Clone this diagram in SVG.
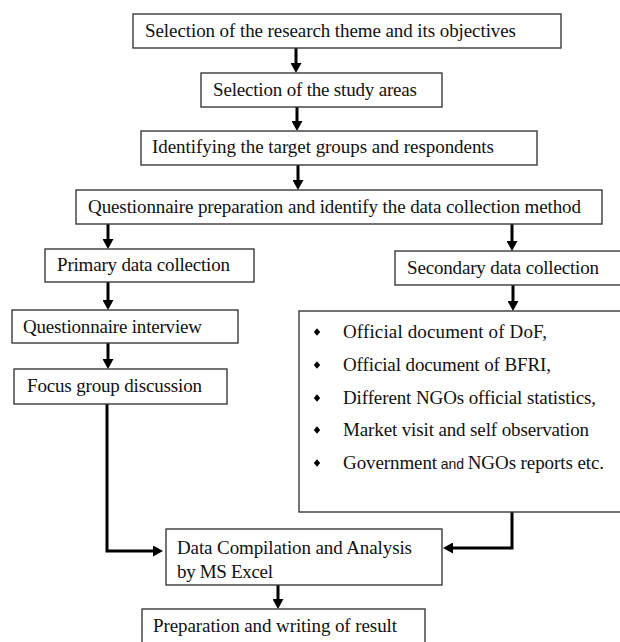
<svg xmlns="http://www.w3.org/2000/svg" width="620" height="642" viewBox="0 0 620 642">
<style>
.box{fill:#fff;stroke:#3a3a3a;stroke-width:1.4}
.t{font-family:"Liberation Serif","Times New Roman",serif;font-size:19px;fill:#111}
.c{fill:none;stroke:#000;stroke-width:3}
.s{font-family:"Liberation Sans",Arial,sans-serif;font-size:14px}
</style>
<defs>
<marker id="ah" markerUnits="userSpaceOnUse" markerWidth="11" markerHeight="11" refX="5" refY="5.5" orient="auto">
<path d="M0,0 L10,5.5 L0,11 z" fill="#000"/>
</marker>
<path id="bul" d="M0,-3.8 L3.2,0 L0,3.8 L-3.2,0 z" fill="#000"/>
</defs>
<rect width="620" height="642" fill="#fff"/>
<g id="connectors">
<path class="c" d="M296,48 V68" marker-end="url(#ah)"/>
<path class="c" d="M297,107 V126" marker-end="url(#ah)"/>
<path class="c" d="M298,165 V185" marker-end="url(#ah)"/>
<path class="c" d="M108,224 V244" marker-end="url(#ah)"/>
<path class="c" d="M512,224 V246" marker-end="url(#ah)"/>
<path class="c" d="M108,282 V305" marker-end="url(#ah)"/>
<path class="c" d="M108,343 V364" marker-end="url(#ah)"/>
<path class="c" d="M513,285 V306" marker-end="url(#ah)"/>
<path class="c" d="M107,404 V551 H158" marker-end="url(#ah)"/>
<path class="c" d="M512,512 V548 H448" marker-end="url(#ah)"/>
<path class="c" d="M278,585 V604" marker-end="url(#ah)"/>
</g>
<g id="n1"><rect class="box" x="133" y="14" width="428" height="34"/><text class="t" x="145" y="37" textLength="371">Selection of the research theme and its objectives</text></g>
<g id="n2"><rect class="box" x="201" y="73" width="241" height="34"/><text class="t" x="213" y="96" textLength="204">Selection of the study areas</text></g>
<g id="n3"><rect class="box" x="141" y="131" width="396" height="34"/><text class="t" x="152" y="153" textLength="342">Identifying the target groups and respondents</text></g>
<g id="n4"><rect class="box" x="76" y="190" width="526" height="34"/><text class="t" x="88" y="213" textLength="493">Questionnaire preparation and identify the data collection method</text></g>
<g id="n5"><rect class="box" x="45" y="249" width="209" height="33"/><text class="t" x="57" y="271" textLength="173">Primary data collection</text></g>
<g id="n6"><rect class="box" x="395" y="251" width="235" height="34"/><text class="t" x="407" y="274" textLength="192">Secondary data collection</text></g>
<g id="n7"><rect class="box" x="12" y="310" width="226" height="33"/><text class="t" x="23" y="333" textLength="179">Questionnaire interview</text></g>
<g id="n8"><rect class="box" x="14" y="369" width="213" height="35"/><text class="t" x="27" y="392" textLength="175">Focus group discussion</text></g>
<g id="n9"><rect class="box" x="299" y="311" width="330" height="201"/>
<use href="#bul" x="317" y="332"/><text class="t" x="343" y="338" textLength="204">Official document of DoF,</text>
<use href="#bul" x="317" y="365"/><text class="t" x="343" y="371" textLength="208">Official document of BFRI,</text>
<use href="#bul" x="317" y="398"/><text class="t" x="343" y="404" textLength="253">Different NGOs official statistics,</text>
<use href="#bul" x="317" y="430"/><text class="t" x="343" y="436" textLength="246">Market visit and self observation</text>
<use href="#bul" x="317" y="463"/><text class="t" x="343" y="469" textLength="261">Government<tspan class="s"> and </tspan>NGOs reports etc.</text>
</g>
<g id="n10"><rect class="box" x="166" y="529" width="276" height="56"/><text class="t" x="177" y="554" textLength="235">Data Compilation and Analysis</text><text class="t" x="177" y="578" textLength="96">by MS Excel</text></g>
<g id="n11"><rect class="box" x="142" y="609" width="283" height="45"/><text class="t" x="153" y="632" textLength="244">Preparation and writing of result</text></g>
</svg>
